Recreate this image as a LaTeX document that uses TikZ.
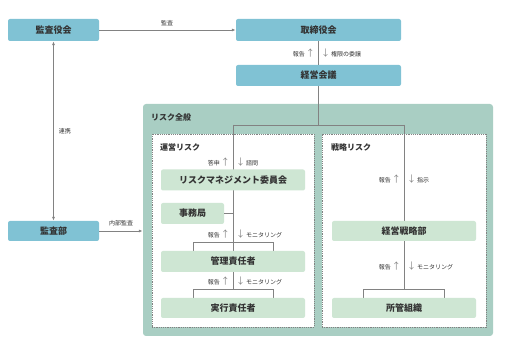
\documentclass[tikz,border=0pt]{standalone}
\usepackage{fontspec}
\setmainfont{Noto Sans CJK JP}
\usepackage{tikz}
\usetikzlibrary{arrows.meta,positioning,calc}
\definecolor{orgBlue}{RGB}{128,194,212}
\definecolor{orgGreen}{RGB}{169,206,195}
\definecolor{orgPale}{RGB}{206,230,211}
\definecolor{orgLine}{RGB}{130,130,130}
\definecolor{orgText}{RGB}{51,51,51}
\newcommand{\tagarrow}[1]{{\fontsize{9}{9}\selectfont\color{orgLine}#1}}
\tikzset{
  topbox/.style={rounded corners=2pt, fill=orgBlue, text=orgText, align=center,
                 inner sep=0pt, font=\fontsize{9}{10}\selectfont\bfseries},
  unitbox/.style={topbox, fill=orgPale, minimum width=144pt, minimum height=21pt},
  areabox/.style={draw=orgLine, dashed, dash pattern=on 1.2pt off 1pt, fill=white,
                  minimum width=162pt, minimum height=193pt, inner sep=0pt},
  heading/.style={anchor=west, text=orgText, inner sep=0pt, font=\fontsize{8}{9}\selectfont\bfseries},
  tag/.style={text=orgText, inner sep=0pt, font=\fontsize{6}{7}\selectfont},
  link/.style={draw=orgLine, line width=0.8pt},
  arrow/.style={link, -{Latex[length=4pt,width=3pt]}},
  twoway/.style={link, {Latex[length=4pt,width=3pt]}-{Latex[length=4pt,width=3pt]}}
}
\begin{document}
\begin{tikzpicture}[x=1pt,y=-1pt]
\useasboundingbox (0,0) rectangle (507,347);
% top row
\node[topbox, minimum width=91pt, minimum height=22pt] (kansayaku) at (53.5,30) {監査役会};
\node[topbox, minimum width=165pt, minimum height=22pt] (torishimari) at (318.5,30) {取締役会};
\node[topbox, minimum width=165pt, minimum height=21pt] (keiei) at (318.5,75.5) {経営会議};
\node[topbox, minimum width=91pt, minimum height=20pt] (kansabu) at (53.5,231) {監査部};
% risk areas
\node[rounded corners=3pt, fill=orgGreen, minimum width=350pt, minimum height=232pt, inner sep=0pt] (zenpan) at (318,220) {};
\node[heading] (zenpanT) at (151,117) {リスク全般};
\node[areabox] (unei) at (233,230.5) {};
\node[areabox, minimum width=164pt] (senryaku) at (404,230.5) {};
\node[heading] (ueiT) at (160,147) {運営リスク};
\node[heading] (senryakuT) at (331,147) {戦略リスク};
% branch from 経営会議
\coordinate (bL) at (233,125);
\coordinate (bR) at (404,125);
\draw[link] (keiei.south) -- (keiei.south |- bL);
\draw[link] (bL) -- (bR);
% 運営リスク side
\coordinate (kL) at (193,242);
\coordinate (kR) at (273,242);
\coordinate (jL) at (193,289);
\coordinate (jR) at (273,289);
\draw[link] (bL) -- (233,289);
\draw[link] (kL |- 0,251) -- (kL) -- (kR) -- (kR |- 0,251);
\draw[link] (jL |- 0,298) -- (jL) -- (jR) -- (jR |- 0,298);
\node[unitbox] (rmc) at (233,180) {リスクマネジメント委員会};
\node[unitbox, minimum width=63pt] (jimu) at (192.5,213.5) {事務局};
\draw[link] (jimu.east) -- (jimu.east -| rmc.south);
\node[unitbox] (kanri) at (233,261.5) {管理責任者};
\node[unitbox, minimum height=20pt] (jikko) at (233,308) {実行責任者};
% 戦略リスク side
\coordinate (sL) at (363,289);
\coordinate (sR) at (444,289);
\draw[link] (bR) -- (404,289);
\draw[link] (sL |- 0,298) -- (sL) -- (sR) -- (sR |- 0,298);
\node[unitbox, minimum height=20pt] (senbu) at (404,231) {経営戦略部};
\node[unitbox, minimum height=20pt] (shokan) at (404,308) {所管組織};
% audit links
\draw[arrow] (kansayaku.east) -- (torishimari.west);
\draw[arrow] (kansabu.east) -- (zenpan.west |- kansabu.east);
\draw[twoway] (kansayaku.south) -- (kansabu.north);
\draw[link] (torishimari.south) -- (keiei.north);
\node[tag] (kansaT) at (167,23) {監査};
\node[tag] (naibuT) at (121,223) {内部監査};
\node[tag] (renkeiT) at (65,131) {連携};
% report / instruction tags
\foreach \x/\y/\up/\down in {315/53/報告/権限の委譲, 230/162/答申/諮問, 230/234/報告/モニタリング,
                             230/281/報告/モニタリング, 401/179/報告/指示, 401/266/報告/モニタリング}
{
  \node[tag, anchor=east] at (\x,\y) {\up\,\tagarrow{↑}};
  \node[tag, anchor=west] at (\x+6,\y) {\tagarrow{↓}\,\down};
}
\end{tikzpicture}
\end{document}
